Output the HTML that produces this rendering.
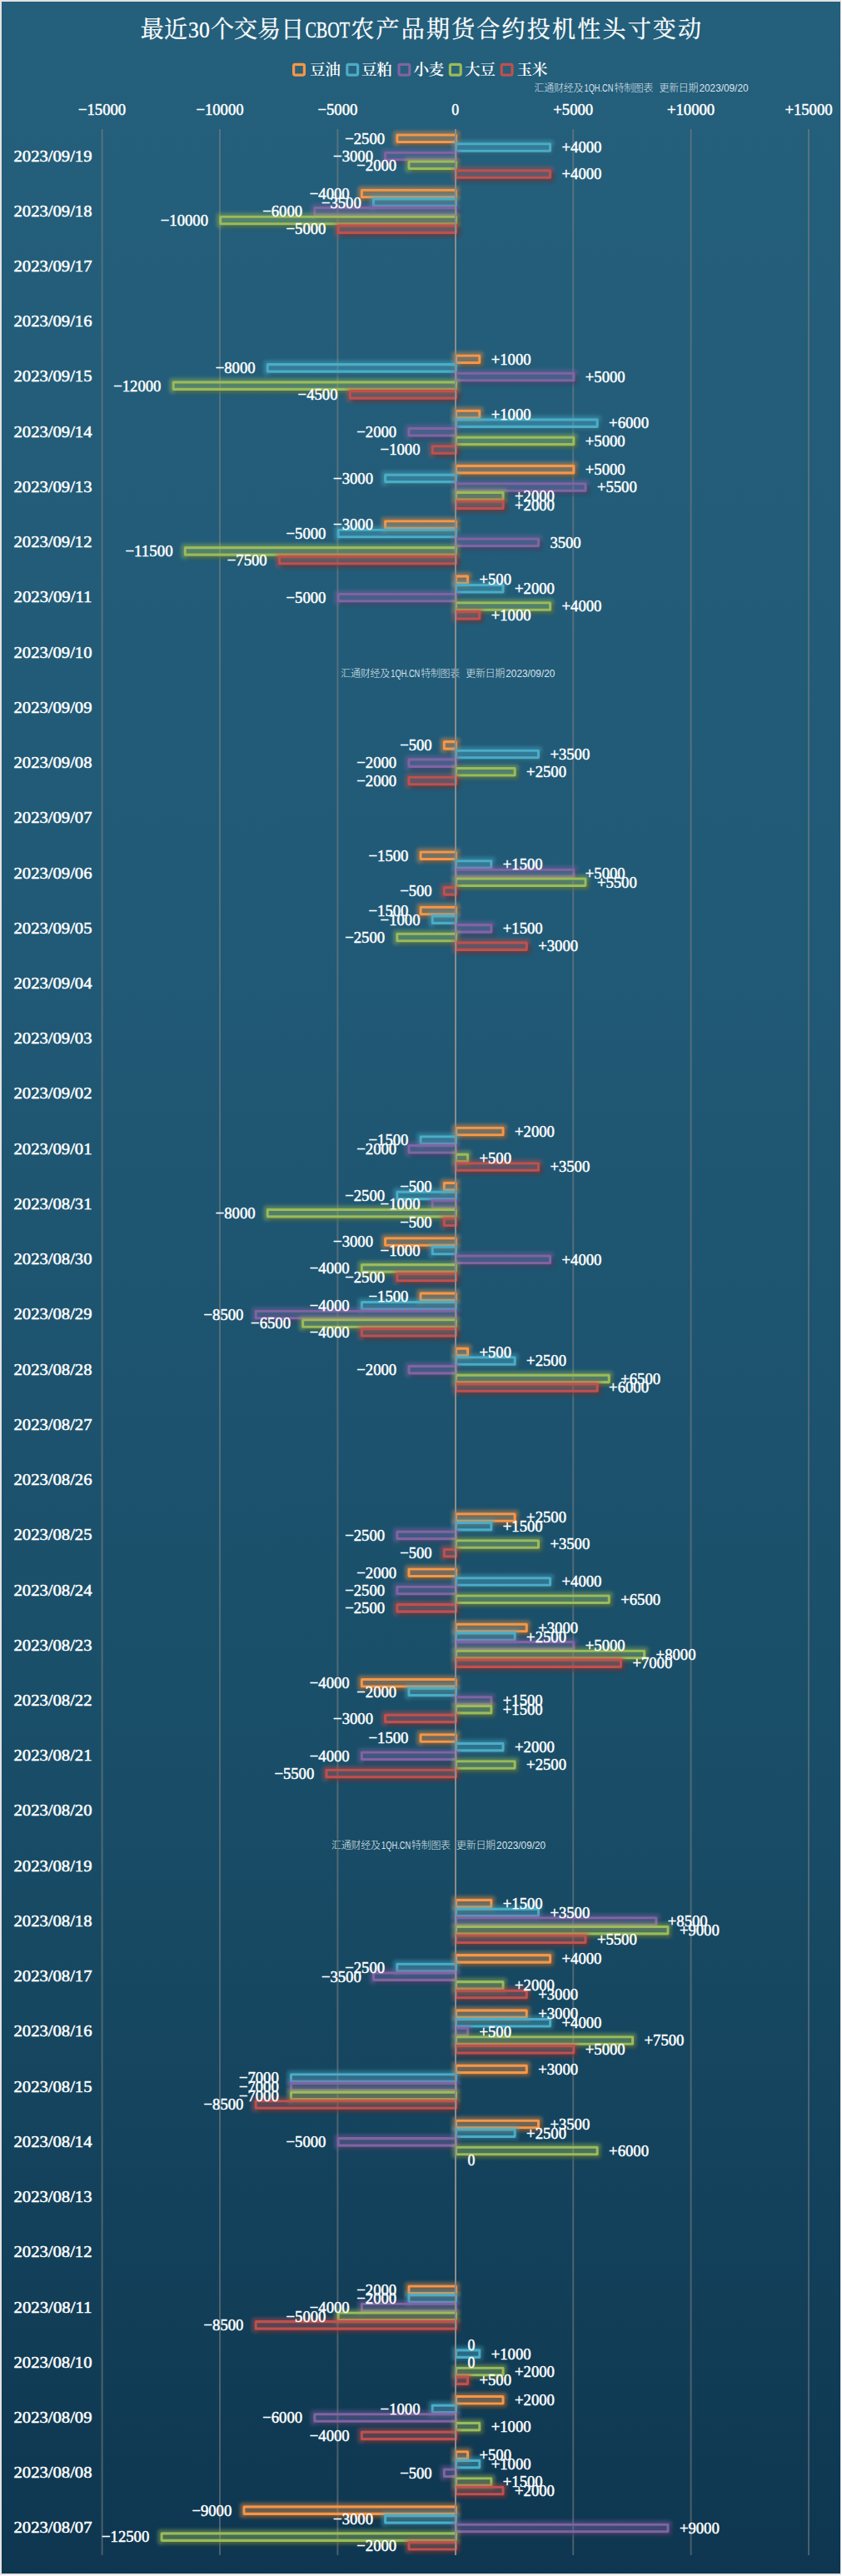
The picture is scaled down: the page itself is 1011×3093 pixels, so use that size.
<!DOCTYPE html>
<html lang="zh-CN"><head><meta charset="utf-8"><title>最近30个交易日CBOT农产品期货合约投机性头寸变动</title>
<style>
html,body{margin:0;padding:0;background:#fff;}
body{width:1011px;height:3093px;overflow:hidden;}
svg{display:block;}
.t{font-family:"Liberation Serif","Noto Serif CJK SC",serif;fill:#fff;stroke:#fff;stroke-width:0.3px;}
.b{font-family:"Liberation Serif","Noto Serif CJK SC",serif;font-weight:normal;font-size:19.00px;fill:#fff;stroke:#fff;stroke-width:0.5px;}
.l{font-family:"Liberation Serif","Noto Serif CJK SC",serif;font-weight:600;font-size:18.67px;fill:#fff;}
.w{font-family:"Liberation Sans","Noto Sans CJK SC",sans-serif;font-size:12px;font-weight:300;fill:#dbe5ec;}
</style></head><body>
<svg width="1011" height="3093" viewBox="0 0 1011 3093">
<defs>
<linearGradient id="bg" x1="0" y1="0" x2="0" y2="1"><stop offset="0" stop-color="#245f7b"/><stop offset="0.35" stop-color="#215a77"/><stop offset="0.7" stop-color="#194d67"/><stop offset="1" stop-color="#0e3650"/></linearGradient>
<filter id="g0" x="-5%" y="-1%" width="110%" height="102%" color-interpolation-filters="sRGB"><feGaussianBlur in="SourceAlpha" stdDeviation="2" result="sb"/><feOffset in="sb" dx="2.5" dy="2.5" result="so"/><feComponentTransfer in="so" result="sh0"><feFuncA type="linear" slope="0.4"/></feComponentTransfer><feMorphology in="SourceGraphic" operator="dilate" radius="3" result="dl"/><feGaussianBlur in="dl" stdDeviation="2" result="gb"/><feComponentTransfer in="gb" result="gl0"><feFuncA type="linear" slope="0.46"/></feComponentTransfer><feMerge result="m"><feMergeNode in="sh0"/><feMergeNode in="gl0"/></feMerge><feComposite in="m" in2="SourceAlpha" operator="out"/></filter>
<filter id="g1" x="-5%" y="-1%" width="110%" height="102%" color-interpolation-filters="sRGB"><feGaussianBlur in="SourceAlpha" stdDeviation="2" result="sb"/><feOffset in="sb" dx="2.5" dy="2.5" result="so"/><feComponentTransfer in="so" result="sh0"><feFuncA type="linear" slope="0.4"/></feComponentTransfer><feMorphology in="SourceGraphic" operator="dilate" radius="3" result="dl"/><feGaussianBlur in="dl" stdDeviation="2" result="gb"/><feComponentTransfer in="gb" result="gl0"><feFuncA type="linear" slope="0.46"/></feComponentTransfer><feMerge result="m"><feMergeNode in="sh0"/><feMergeNode in="gl0"/></feMerge><feComposite in="m" in2="SourceAlpha" operator="out"/></filter>
<filter id="g2" x="-5%" y="-1%" width="110%" height="102%" color-interpolation-filters="sRGB"><feGaussianBlur in="SourceAlpha" stdDeviation="2" result="sb"/><feOffset in="sb" dx="2.5" dy="2.5" result="so"/><feComponentTransfer in="so" result="sh0"><feFuncA type="linear" slope="0.4"/></feComponentTransfer><feMorphology in="SourceGraphic" operator="dilate" radius="3" result="dl"/><feGaussianBlur in="dl" stdDeviation="2" result="gb"/><feComponentTransfer in="gb" result="gl0"><feFuncA type="linear" slope="0.46"/></feComponentTransfer><feMerge result="m"><feMergeNode in="sh0"/><feMergeNode in="gl0"/></feMerge><feComposite in="m" in2="SourceAlpha" operator="out"/></filter>
<filter id="g3" x="-5%" y="-1%" width="110%" height="102%" color-interpolation-filters="sRGB"><feGaussianBlur in="SourceAlpha" stdDeviation="2" result="sb"/><feOffset in="sb" dx="2.5" dy="2.5" result="so"/><feComponentTransfer in="so" result="sh0"><feFuncA type="linear" slope="0.4"/></feComponentTransfer><feMorphology in="SourceGraphic" operator="dilate" radius="3" result="dl"/><feGaussianBlur in="dl" stdDeviation="2" result="gb"/><feComponentTransfer in="gb" result="gl0"><feFuncA type="linear" slope="0.46"/></feComponentTransfer><feMerge result="m"><feMergeNode in="sh0"/><feMergeNode in="gl0"/></feMerge><feComposite in="m" in2="SourceAlpha" operator="out"/></filter>
<filter id="g4" x="-5%" y="-1%" width="110%" height="102%" color-interpolation-filters="sRGB"><feGaussianBlur in="SourceAlpha" stdDeviation="2" result="sb"/><feOffset in="sb" dx="2.5" dy="2.5" result="so"/><feComponentTransfer in="so" result="sh0"><feFuncA type="linear" slope="0.4"/></feComponentTransfer><feMorphology in="SourceGraphic" operator="dilate" radius="3" result="dl"/><feGaussianBlur in="dl" stdDeviation="2" result="gb"/><feComponentTransfer in="gb" result="gl0"><feFuncA type="linear" slope="0.46"/></feComponentTransfer><feMerge result="m"><feMergeNode in="sh0"/><feMergeNode in="gl0"/></feMerge><feComposite in="m" in2="SourceAlpha" operator="out"/></filter>
</defs>
<rect x="0" y="0" width="1011" height="3093" fill="#ffffff"/>
<rect x="0" y="0" width="1010" height="3092" fill="#e3e3e3"/>
<rect x="2" y="2" width="1007" height="3088" fill="url(#bg)"/>
<text class="t" x="168.8" y="44.6" font-size="28" textLength="56.1" lengthAdjust="spacing">最近</text>
<text class="t" x="226.1" y="44.6" font-size="28" textLength="25.7" lengthAdjust="spacingAndGlyphs">30</text>
<text class="t" x="253.0" y="44.6" font-size="28" textLength="112.2" lengthAdjust="spacing">个交易日</text>
<text class="t" x="366.4" y="44.6" font-size="28" textLength="53.7" lengthAdjust="spacingAndGlyphs">CBOT</text>
<text class="t" x="421.3" y="44.6" font-size="28" textLength="420.8" lengthAdjust="spacing">农产品期货合约投机性头寸变动</text>
<rect x="352.6" y="77.3" width="12.8" height="12.8" rx="1.8" fill="#f79646" fill-opacity="0.05" stroke="#f79646" stroke-width="3.2"/>
<text class="l" x="372.0" y="90.3" textLength="36.8" lengthAdjust="spacing">豆油</text>
<rect x="416.8" y="77.3" width="12.8" height="12.8" rx="1.8" fill="#4bacc6" fill-opacity="0.05" stroke="#4bacc6" stroke-width="3.2"/>
<text class="l" x="434.0" y="90.3" textLength="36.8" lengthAdjust="spacing">豆粕</text>
<rect x="479.0" y="77.3" width="12.8" height="12.8" rx="1.8" fill="#8064a2" fill-opacity="0.05" stroke="#8064a2" stroke-width="3.2"/>
<text class="l" x="496.4" y="90.3" textLength="36.8" lengthAdjust="spacing">小麦</text>
<rect x="540.4" y="77.3" width="12.8" height="12.8" rx="1.8" fill="#9bbb59" fill-opacity="0.05" stroke="#9bbb59" stroke-width="3.2"/>
<text class="l" x="558.0" y="90.3" textLength="36.8" lengthAdjust="spacing">大豆</text>
<rect x="602.2" y="77.3" width="12.8" height="12.8" rx="1.8" fill="#c0504d" fill-opacity="0.05" stroke="#c0504d" stroke-width="3.2"/>
<text class="l" x="620.5" y="90.3" textLength="36.8" lengthAdjust="spacing">玉米</text>
<text class="w" x="641.5" y="109.8" textLength="59.0" lengthAdjust="spacing">汇通财经及</text>
<text class="w" x="701.5" y="109.8" textLength="35.0" lengthAdjust="spacingAndGlyphs">1QH.CN</text>
<text class="w" x="737.5" y="109.8" textLength="47.0" lengthAdjust="spacing">特制图表</text>
<text class="w" x="791.5" y="109.8" textLength="47.0" lengthAdjust="spacing">更新日期</text>
<text class="w" x="839.5" y="109.8" textLength="59.0" lengthAdjust="spacingAndGlyphs">2023/09/20</text>
<text class="w" x="409.3" y="812.8" textLength="59.0" lengthAdjust="spacing">汇通财经及</text>
<text class="w" x="469.3" y="812.8" textLength="35.0" lengthAdjust="spacingAndGlyphs">1QH.CN</text>
<text class="w" x="505.3" y="812.8" textLength="47.0" lengthAdjust="spacing">特制图表</text>
<text class="w" x="559.3" y="812.8" textLength="47.0" lengthAdjust="spacing">更新日期</text>
<text class="w" x="607.3" y="812.8" textLength="59.0" lengthAdjust="spacingAndGlyphs">2023/09/20</text>
<text class="w" x="398.1" y="2219.8" textLength="59.0" lengthAdjust="spacing">汇通财经及</text>
<text class="w" x="458.1" y="2219.8" textLength="35.0" lengthAdjust="spacingAndGlyphs">1QH.CN</text>
<text class="w" x="494.1" y="2219.8" textLength="47.0" lengthAdjust="spacing">特制图表</text>
<text class="w" x="548.1" y="2219.8" textLength="47.0" lengthAdjust="spacing">更新日期</text>
<text class="w" x="596.1" y="2219.8" textLength="59.0" lengthAdjust="spacingAndGlyphs">2023/09/20</text>
<text class="b" x="122.6" y="138" text-anchor="middle" textLength="57.2" lengthAdjust="spacingAndGlyphs">−15000</text>
<text class="b" x="264.0" y="138" text-anchor="middle" textLength="57.2" lengthAdjust="spacingAndGlyphs">−10000</text>
<text class="b" x="405.4" y="138" text-anchor="middle" textLength="47.9" lengthAdjust="spacingAndGlyphs">−5000</text>
<text class="b" x="546.8" y="138" text-anchor="middle" textLength="8.9" lengthAdjust="spacingAndGlyphs">0</text>
<text class="b" x="688.2" y="138" text-anchor="middle" textLength="47.9" lengthAdjust="spacingAndGlyphs">+5000</text>
<text class="b" x="829.6" y="138" text-anchor="middle" textLength="57.2" lengthAdjust="spacingAndGlyphs">+10000</text>
<text class="b" x="971.0" y="138" text-anchor="middle" textLength="57.2" lengthAdjust="spacingAndGlyphs">+15000</text>
<rect x="121.6" y="155" width="2" height="2913" fill="#848484" fill-opacity="0.52"/>
<rect x="263.0" y="155" width="2" height="2913" fill="#848484" fill-opacity="0.52"/>
<rect x="404.4" y="155" width="2" height="2913" fill="#848484" fill-opacity="0.52"/>
<rect x="687.2" y="155" width="2" height="2913" fill="#848484" fill-opacity="0.52"/>
<rect x="828.6" y="155" width="2" height="2913" fill="#848484" fill-opacity="0.52"/>
<rect x="970.0" y="155" width="2" height="2913" fill="#848484" fill-opacity="0.52"/>
<text class="b" x="16.5" y="193.5" textLength="94" lengthAdjust="spacingAndGlyphs">2023/09/19</text>
<text class="b" x="16.5" y="259.7" textLength="94" lengthAdjust="spacingAndGlyphs">2023/09/18</text>
<text class="b" x="16.5" y="326.0" textLength="94" lengthAdjust="spacingAndGlyphs">2023/09/17</text>
<text class="b" x="16.5" y="392.2" textLength="94" lengthAdjust="spacingAndGlyphs">2023/09/16</text>
<text class="b" x="16.5" y="458.4" textLength="94" lengthAdjust="spacingAndGlyphs">2023/09/15</text>
<text class="b" x="16.5" y="524.6" textLength="94" lengthAdjust="spacingAndGlyphs">2023/09/14</text>
<text class="b" x="16.5" y="590.9" textLength="94" lengthAdjust="spacingAndGlyphs">2023/09/13</text>
<text class="b" x="16.5" y="657.1" textLength="94" lengthAdjust="spacingAndGlyphs">2023/09/12</text>
<text class="b" x="16.5" y="723.3" textLength="94" lengthAdjust="spacingAndGlyphs">2023/09/11</text>
<text class="b" x="16.5" y="789.6" textLength="94" lengthAdjust="spacingAndGlyphs">2023/09/10</text>
<text class="b" x="16.5" y="855.8" textLength="94" lengthAdjust="spacingAndGlyphs">2023/09/09</text>
<text class="b" x="16.5" y="922.0" textLength="94" lengthAdjust="spacingAndGlyphs">2023/09/08</text>
<text class="b" x="16.5" y="988.3" textLength="94" lengthAdjust="spacingAndGlyphs">2023/09/07</text>
<text class="b" x="16.5" y="1054.5" textLength="94" lengthAdjust="spacingAndGlyphs">2023/09/06</text>
<text class="b" x="16.5" y="1120.7" textLength="94" lengthAdjust="spacingAndGlyphs">2023/09/05</text>
<text class="b" x="16.5" y="1187.0" textLength="94" lengthAdjust="spacingAndGlyphs">2023/09/04</text>
<text class="b" x="16.5" y="1253.2" textLength="94" lengthAdjust="spacingAndGlyphs">2023/09/03</text>
<text class="b" x="16.5" y="1319.4" textLength="94" lengthAdjust="spacingAndGlyphs">2023/09/02</text>
<text class="b" x="16.5" y="1385.6" textLength="94" lengthAdjust="spacingAndGlyphs">2023/09/01</text>
<text class="b" x="16.5" y="1451.9" textLength="94" lengthAdjust="spacingAndGlyphs">2023/08/31</text>
<text class="b" x="16.5" y="1518.1" textLength="94" lengthAdjust="spacingAndGlyphs">2023/08/30</text>
<text class="b" x="16.5" y="1584.3" textLength="94" lengthAdjust="spacingAndGlyphs">2023/08/29</text>
<text class="b" x="16.5" y="1650.6" textLength="94" lengthAdjust="spacingAndGlyphs">2023/08/28</text>
<text class="b" x="16.5" y="1716.8" textLength="94" lengthAdjust="spacingAndGlyphs">2023/08/27</text>
<text class="b" x="16.5" y="1783.0" textLength="94" lengthAdjust="spacingAndGlyphs">2023/08/26</text>
<text class="b" x="16.5" y="1849.2" textLength="94" lengthAdjust="spacingAndGlyphs">2023/08/25</text>
<text class="b" x="16.5" y="1915.5" textLength="94" lengthAdjust="spacingAndGlyphs">2023/08/24</text>
<text class="b" x="16.5" y="1981.7" textLength="94" lengthAdjust="spacingAndGlyphs">2023/08/23</text>
<text class="b" x="16.5" y="2047.9" textLength="94" lengthAdjust="spacingAndGlyphs">2023/08/22</text>
<text class="b" x="16.5" y="2114.2" textLength="94" lengthAdjust="spacingAndGlyphs">2023/08/21</text>
<text class="b" x="16.5" y="2180.4" textLength="94" lengthAdjust="spacingAndGlyphs">2023/08/20</text>
<text class="b" x="16.5" y="2246.6" textLength="94" lengthAdjust="spacingAndGlyphs">2023/08/19</text>
<text class="b" x="16.5" y="2312.9" textLength="94" lengthAdjust="spacingAndGlyphs">2023/08/18</text>
<text class="b" x="16.5" y="2379.1" textLength="94" lengthAdjust="spacingAndGlyphs">2023/08/17</text>
<text class="b" x="16.5" y="2445.3" textLength="94" lengthAdjust="spacingAndGlyphs">2023/08/16</text>
<text class="b" x="16.5" y="2511.6" textLength="94" lengthAdjust="spacingAndGlyphs">2023/08/15</text>
<text class="b" x="16.5" y="2577.8" textLength="94" lengthAdjust="spacingAndGlyphs">2023/08/14</text>
<text class="b" x="16.5" y="2644.0" textLength="94" lengthAdjust="spacingAndGlyphs">2023/08/13</text>
<text class="b" x="16.5" y="2710.2" textLength="94" lengthAdjust="spacingAndGlyphs">2023/08/12</text>
<text class="b" x="16.5" y="2776.5" textLength="94" lengthAdjust="spacingAndGlyphs">2023/08/11</text>
<text class="b" x="16.5" y="2842.7" textLength="94" lengthAdjust="spacingAndGlyphs">2023/08/10</text>
<text class="b" x="16.5" y="2908.9" textLength="94" lengthAdjust="spacingAndGlyphs">2023/08/09</text>
<text class="b" x="16.5" y="2975.2" textLength="94" lengthAdjust="spacingAndGlyphs">2023/08/08</text>
<text class="b" x="16.5" y="3041.4" textLength="94" lengthAdjust="spacingAndGlyphs">2023/08/07</text>
<defs>
<g id="s0">
<rect x="476.8" y="162.0" width="70.7" height="8.5" rx="0.4"/>
<rect x="434.3" y="228.3" width="113.1" height="8.5" rx="0.4"/>
<rect x="547.5" y="427.0" width="28.3" height="8.5" rx="0.4"/>
<rect x="547.5" y="493.2" width="28.3" height="8.5" rx="0.4"/>
<rect x="547.5" y="559.4" width="141.4" height="8.5" rx="0.4"/>
<rect x="462.6" y="625.7" width="84.8" height="8.5" rx="0.4"/>
<rect x="547.5" y="691.9" width="14.1" height="8.5" rx="0.4"/>
<rect x="533.3" y="890.6" width="14.1" height="8.5" rx="0.4"/>
<rect x="505.0" y="1023.0" width="42.4" height="8.5" rx="0.4"/>
<rect x="505.0" y="1089.3" width="42.4" height="8.5" rx="0.4"/>
<rect x="547.5" y="1354.2" width="56.6" height="8.5" rx="0.4"/>
<rect x="533.3" y="1420.4" width="14.1" height="8.5" rx="0.4"/>
<rect x="462.6" y="1486.7" width="84.8" height="8.5" rx="0.4"/>
<rect x="505.0" y="1552.9" width="42.4" height="8.5" rx="0.4"/>
<rect x="547.5" y="1619.1" width="14.1" height="8.5" rx="0.4"/>
<rect x="547.5" y="1817.8" width="70.7" height="8.5" rx="0.4"/>
<rect x="490.9" y="1884.0" width="56.6" height="8.5" rx="0.4"/>
<rect x="547.5" y="1950.3" width="84.8" height="8.5" rx="0.4"/>
<rect x="434.3" y="2016.5" width="113.1" height="8.5" rx="0.4"/>
<rect x="505.0" y="2082.7" width="42.4" height="8.5" rx="0.4"/>
<rect x="547.5" y="2281.4" width="42.4" height="8.5" rx="0.4"/>
<rect x="547.5" y="2347.6" width="113.1" height="8.5" rx="0.4"/>
<rect x="547.5" y="2413.9" width="84.8" height="8.5" rx="0.4"/>
<rect x="547.5" y="2480.1" width="84.8" height="8.5" rx="0.4"/>
<rect x="547.5" y="2546.3" width="99.0" height="8.5" rx="0.4"/>
<rect x="490.9" y="2745.0" width="56.6" height="8.5" rx="0.4"/>
<rect x="547.5" y="2877.5" width="56.6" height="8.5" rx="0.4"/>
<rect x="547.5" y="2943.7" width="14.1" height="8.5" rx="0.4"/>
<rect x="292.9" y="3009.9" width="254.5" height="8.5" rx="0.4"/>
</g>
<g id="s1">
<rect x="547.5" y="172.7" width="113.1" height="8.5" rx="0.4"/>
<rect x="448.5" y="238.9" width="99.0" height="8.5" rx="0.4"/>
<rect x="321.2" y="437.6" width="226.2" height="8.5" rx="0.4"/>
<rect x="547.5" y="503.9" width="169.7" height="8.5" rx="0.4"/>
<rect x="462.6" y="570.1" width="84.8" height="8.5" rx="0.4"/>
<rect x="406.1" y="636.3" width="141.4" height="8.5" rx="0.4"/>
<rect x="547.5" y="702.5" width="56.6" height="8.5" rx="0.4"/>
<rect x="547.5" y="901.2" width="99.0" height="8.5" rx="0.4"/>
<rect x="547.5" y="1033.7" width="42.4" height="8.5" rx="0.4"/>
<rect x="519.2" y="1099.9" width="28.3" height="8.5" rx="0.4"/>
<rect x="505.0" y="1364.8" width="42.4" height="8.5" rx="0.4"/>
<rect x="476.8" y="1431.1" width="70.7" height="8.5" rx="0.4"/>
<rect x="519.2" y="1497.3" width="28.3" height="8.5" rx="0.4"/>
<rect x="434.3" y="1563.5" width="113.1" height="8.5" rx="0.4"/>
<rect x="547.5" y="1629.8" width="70.7" height="8.5" rx="0.4"/>
<rect x="547.5" y="1828.4" width="42.4" height="8.5" rx="0.4"/>
<rect x="547.5" y="1894.7" width="113.1" height="8.5" rx="0.4"/>
<rect x="547.5" y="1960.9" width="70.7" height="8.5" rx="0.4"/>
<rect x="490.9" y="2027.1" width="56.6" height="8.5" rx="0.4"/>
<rect x="547.5" y="2093.4" width="56.6" height="8.5" rx="0.4"/>
<rect x="547.5" y="2292.1" width="99.0" height="8.5" rx="0.4"/>
<rect x="476.8" y="2358.3" width="70.7" height="8.5" rx="0.4"/>
<rect x="547.5" y="2424.5" width="113.1" height="8.5" rx="0.4"/>
<rect x="349.5" y="2490.8" width="198.0" height="8.5" rx="0.4"/>
<rect x="547.5" y="2557.0" width="70.7" height="8.5" rx="0.4"/>
<rect x="490.9" y="2755.7" width="56.6" height="8.5" rx="0.4"/>
<rect x="547.5" y="2821.9" width="28.3" height="8.5" rx="0.4"/>
<rect x="519.2" y="2888.1" width="28.3" height="8.5" rx="0.4"/>
<rect x="547.5" y="2954.4" width="28.3" height="8.5" rx="0.4"/>
<rect x="462.6" y="3020.6" width="84.8" height="8.5" rx="0.4"/>
</g>
<g id="s2">
<rect x="462.6" y="183.3" width="84.8" height="8.5" rx="0.4"/>
<rect x="377.8" y="249.6" width="169.7" height="8.5" rx="0.4"/>
<rect x="547.5" y="448.3" width="141.4" height="8.5" rx="0.4"/>
<rect x="490.9" y="514.5" width="56.6" height="8.5" rx="0.4"/>
<rect x="547.5" y="580.7" width="155.5" height="8.5" rx="0.4"/>
<rect x="547.5" y="647.0" width="99.0" height="8.5" rx="0.4"/>
<rect x="406.1" y="713.2" width="141.4" height="8.5" rx="0.4"/>
<rect x="490.9" y="911.9" width="56.6" height="8.5" rx="0.4"/>
<rect x="547.5" y="1044.3" width="141.4" height="8.5" rx="0.4"/>
<rect x="547.5" y="1110.6" width="42.4" height="8.5" rx="0.4"/>
<rect x="490.9" y="1375.5" width="56.6" height="8.5" rx="0.4"/>
<rect x="519.2" y="1441.7" width="28.3" height="8.5" rx="0.4"/>
<rect x="547.5" y="1508.0" width="113.1" height="8.5" rx="0.4"/>
<rect x="307.1" y="1574.2" width="240.4" height="8.5" rx="0.4"/>
<rect x="490.9" y="1640.4" width="56.6" height="8.5" rx="0.4"/>
<rect x="476.8" y="1839.1" width="70.7" height="8.5" rx="0.4"/>
<rect x="476.8" y="1905.3" width="70.7" height="8.5" rx="0.4"/>
<rect x="547.5" y="1971.6" width="141.4" height="8.5" rx="0.4"/>
<rect x="547.5" y="2037.8" width="42.4" height="8.5" rx="0.4"/>
<rect x="434.3" y="2104.0" width="113.1" height="8.5" rx="0.4"/>
<rect x="547.5" y="2302.7" width="240.4" height="8.5" rx="0.4"/>
<rect x="448.5" y="2368.9" width="99.0" height="8.5" rx="0.4"/>
<rect x="547.5" y="2435.2" width="14.1" height="8.5" rx="0.4"/>
<rect x="349.5" y="2501.4" width="198.0" height="8.5" rx="0.4"/>
<rect x="406.1" y="2567.6" width="141.4" height="8.5" rx="0.4"/>
<rect x="434.3" y="2766.3" width="113.1" height="8.5" rx="0.4"/>
<rect x="377.8" y="2898.8" width="169.7" height="8.5" rx="0.4"/>
<rect x="533.3" y="2965.0" width="14.1" height="8.5" rx="0.4"/>
<rect x="547.5" y="3031.2" width="254.5" height="8.5" rx="0.4"/>
</g>
<g id="s3">
<rect x="490.9" y="194.0" width="56.6" height="8.5" rx="0.4"/>
<rect x="264.7" y="260.2" width="282.8" height="8.5" rx="0.4"/>
<rect x="208.1" y="458.9" width="339.4" height="8.5" rx="0.4"/>
<rect x="547.5" y="525.1" width="141.4" height="8.5" rx="0.4"/>
<rect x="547.5" y="591.4" width="56.6" height="8.5" rx="0.4"/>
<rect x="222.2" y="657.6" width="325.2" height="8.5" rx="0.4"/>
<rect x="547.5" y="723.8" width="113.1" height="8.5" rx="0.4"/>
<rect x="547.5" y="922.5" width="70.7" height="8.5" rx="0.4"/>
<rect x="547.5" y="1055.0" width="155.5" height="8.5" rx="0.4"/>
<rect x="476.8" y="1121.2" width="70.7" height="8.5" rx="0.4"/>
<rect x="547.5" y="1386.1" width="14.1" height="8.5" rx="0.4"/>
<rect x="321.2" y="1452.4" width="226.2" height="8.5" rx="0.4"/>
<rect x="434.3" y="1518.6" width="113.1" height="8.5" rx="0.4"/>
<rect x="363.6" y="1584.8" width="183.8" height="8.5" rx="0.4"/>
<rect x="547.5" y="1651.1" width="183.8" height="8.5" rx="0.4"/>
<rect x="547.5" y="1849.8" width="99.0" height="8.5" rx="0.4"/>
<rect x="547.5" y="1916.0" width="183.8" height="8.5" rx="0.4"/>
<rect x="547.5" y="1982.2" width="226.2" height="8.5" rx="0.4"/>
<rect x="547.5" y="2048.4" width="42.4" height="8.5" rx="0.4"/>
<rect x="547.5" y="2114.7" width="70.7" height="8.5" rx="0.4"/>
<rect x="547.5" y="2313.4" width="254.5" height="8.5" rx="0.4"/>
<rect x="547.5" y="2379.6" width="56.6" height="8.5" rx="0.4"/>
<rect x="547.5" y="2445.8" width="212.1" height="8.5" rx="0.4"/>
<rect x="349.5" y="2512.1" width="198.0" height="8.5" rx="0.4"/>
<rect x="547.5" y="2578.3" width="169.7" height="8.5" rx="0.4"/>
<rect x="406.1" y="2777.0" width="141.4" height="8.5" rx="0.4"/>
<rect x="547.5" y="2843.2" width="56.6" height="8.5" rx="0.4"/>
<rect x="547.5" y="2909.4" width="28.3" height="8.5" rx="0.4"/>
<rect x="547.5" y="2975.7" width="42.4" height="8.5" rx="0.4"/>
<rect x="194.0" y="3041.9" width="353.5" height="8.5" rx="0.4"/>
</g>
<g id="s4">
<rect x="547.5" y="204.7" width="113.1" height="8.5" rx="0.4"/>
<rect x="406.1" y="270.9" width="141.4" height="8.5" rx="0.4"/>
<rect x="420.2" y="469.6" width="127.3" height="8.5" rx="0.4"/>
<rect x="519.2" y="535.8" width="28.3" height="8.5" rx="0.4"/>
<rect x="547.5" y="602.0" width="56.6" height="8.5" rx="0.4"/>
<rect x="335.4" y="668.3" width="212.1" height="8.5" rx="0.4"/>
<rect x="547.5" y="734.5" width="28.3" height="8.5" rx="0.4"/>
<rect x="490.9" y="933.2" width="56.6" height="8.5" rx="0.4"/>
<rect x="533.3" y="1065.6" width="14.1" height="8.5" rx="0.4"/>
<rect x="547.5" y="1131.9" width="84.8" height="8.5" rx="0.4"/>
<rect x="547.5" y="1396.8" width="99.0" height="8.5" rx="0.4"/>
<rect x="533.3" y="1463.0" width="14.1" height="8.5" rx="0.4"/>
<rect x="476.8" y="1529.2" width="70.7" height="8.5" rx="0.4"/>
<rect x="434.3" y="1595.5" width="113.1" height="8.5" rx="0.4"/>
<rect x="547.5" y="1661.7" width="169.7" height="8.5" rx="0.4"/>
<rect x="533.3" y="1860.4" width="14.1" height="8.5" rx="0.4"/>
<rect x="476.8" y="1926.6" width="70.7" height="8.5" rx="0.4"/>
<rect x="547.5" y="1992.9" width="198.0" height="8.5" rx="0.4"/>
<rect x="462.6" y="2059.1" width="84.8" height="8.5" rx="0.4"/>
<rect x="391.9" y="2125.3" width="155.5" height="8.5" rx="0.4"/>
<rect x="547.5" y="2324.0" width="155.5" height="8.5" rx="0.4"/>
<rect x="547.5" y="2390.2" width="84.8" height="8.5" rx="0.4"/>
<rect x="547.5" y="2456.5" width="141.4" height="8.5" rx="0.4"/>
<rect x="307.1" y="2522.7" width="240.4" height="8.5" rx="0.4"/>
<rect x="307.1" y="2787.6" width="240.4" height="8.5" rx="0.4"/>
<rect x="547.5" y="2853.9" width="14.1" height="8.5" rx="0.4"/>
<rect x="434.3" y="2920.1" width="113.1" height="8.5" rx="0.4"/>
<rect x="547.5" y="2986.3" width="56.6" height="8.5" rx="0.4"/>
<rect x="490.9" y="3052.5" width="56.6" height="8.5" rx="0.4"/>
</g>
</defs>
<use href="#s0" filter="url(#g0)" fill="#f79646" stroke="#f79646" stroke-width="3.1" stroke-linejoin="round"/>
<use href="#s0" fill="#f79646" fill-opacity="0.4" stroke="#f79646" stroke-width="3.1" stroke-linejoin="round"/>
<use href="#s1" filter="url(#g1)" fill="#4bacc6" stroke="#4bacc6" stroke-width="3.1" stroke-linejoin="round"/>
<use href="#s1" fill="#4bacc6" fill-opacity="0.4" stroke="#4bacc6" stroke-width="3.1" stroke-linejoin="round"/>
<use href="#s2" filter="url(#g2)" fill="#8064a2" stroke="#8064a2" stroke-width="3.1" stroke-linejoin="round"/>
<use href="#s2" fill="#8064a2" fill-opacity="0.4" stroke="#8064a2" stroke-width="3.1" stroke-linejoin="round"/>
<use href="#s3" filter="url(#g3)" fill="#9bbb59" stroke="#9bbb59" stroke-width="3.1" stroke-linejoin="round"/>
<use href="#s3" fill="#9bbb59" fill-opacity="0.4" stroke="#9bbb59" stroke-width="3.1" stroke-linejoin="round"/>
<use href="#s4" filter="url(#g4)" fill="#c0504d" stroke="#c0504d" stroke-width="3.1" stroke-linejoin="round"/>
<use href="#s4" fill="#c0504d" fill-opacity="0.4" stroke="#c0504d" stroke-width="3.1" stroke-linejoin="round"/>
<rect x="546" y="155" width="2" height="2913" fill="#8c8c8c"/>
<g>
<text class="b" x="462.1" y="172.6" text-anchor="end" textLength="47.9" lengthAdjust="spacingAndGlyphs">−2500</text>
<text class="b" x="674.5" y="183.2" textLength="47.9" lengthAdjust="spacingAndGlyphs">+4000</text>
<text class="b" x="448.0" y="193.9" text-anchor="end" textLength="47.9" lengthAdjust="spacingAndGlyphs">−3000</text>
<text class="b" x="476.2" y="204.6" text-anchor="end" textLength="47.9" lengthAdjust="spacingAndGlyphs">−2000</text>
<text class="b" x="674.5" y="215.2" textLength="47.9" lengthAdjust="spacingAndGlyphs">+4000</text>
<text class="b" x="419.7" y="238.8" text-anchor="end" textLength="47.9" lengthAdjust="spacingAndGlyphs">−4000</text>
<text class="b" x="433.8" y="249.5" text-anchor="end" textLength="47.9" lengthAdjust="spacingAndGlyphs">−3500</text>
<text class="b" x="363.1" y="260.1" text-anchor="end" textLength="47.9" lengthAdjust="spacingAndGlyphs">−6000</text>
<text class="b" x="250.0" y="270.8" text-anchor="end" textLength="57.2" lengthAdjust="spacingAndGlyphs">−10000</text>
<text class="b" x="391.4" y="281.4" text-anchor="end" textLength="47.9" lengthAdjust="spacingAndGlyphs">−5000</text>
<text class="b" x="589.7" y="437.5" textLength="47.9" lengthAdjust="spacingAndGlyphs">+1000</text>
<text class="b" x="306.6" y="448.2" text-anchor="end" textLength="47.9" lengthAdjust="spacingAndGlyphs">−8000</text>
<text class="b" x="702.8" y="458.8" textLength="47.9" lengthAdjust="spacingAndGlyphs">+5000</text>
<text class="b" x="193.4" y="469.5" text-anchor="end" textLength="57.2" lengthAdjust="spacingAndGlyphs">−12000</text>
<text class="b" x="405.5" y="480.1" text-anchor="end" textLength="47.9" lengthAdjust="spacingAndGlyphs">−4500</text>
<text class="b" x="589.7" y="503.8" textLength="47.9" lengthAdjust="spacingAndGlyphs">+1000</text>
<text class="b" x="731.1" y="514.4" textLength="47.9" lengthAdjust="spacingAndGlyphs">+6000</text>
<text class="b" x="476.2" y="525.0" text-anchor="end" textLength="47.9" lengthAdjust="spacingAndGlyphs">−2000</text>
<text class="b" x="702.8" y="535.7" textLength="47.9" lengthAdjust="spacingAndGlyphs">+5000</text>
<text class="b" x="504.5" y="546.3" text-anchor="end" textLength="47.9" lengthAdjust="spacingAndGlyphs">−1000</text>
<text class="b" x="702.8" y="570.0" textLength="47.9" lengthAdjust="spacingAndGlyphs">+5000</text>
<text class="b" x="448.0" y="580.6" text-anchor="end" textLength="47.9" lengthAdjust="spacingAndGlyphs">−3000</text>
<text class="b" x="716.9" y="591.3" textLength="47.9" lengthAdjust="spacingAndGlyphs">+5500</text>
<text class="b" x="618.0" y="601.9" textLength="47.9" lengthAdjust="spacingAndGlyphs">+2000</text>
<text class="b" x="618.0" y="612.6" textLength="47.9" lengthAdjust="spacingAndGlyphs">+2000</text>
<text class="b" x="448.0" y="636.2" text-anchor="end" textLength="47.9" lengthAdjust="spacingAndGlyphs">−3000</text>
<text class="b" x="391.4" y="646.9" text-anchor="end" textLength="47.9" lengthAdjust="spacingAndGlyphs">−5000</text>
<text class="b" x="660.4" y="657.5" textLength="37.3" lengthAdjust="spacingAndGlyphs">3500</text>
<text class="b" x="207.6" y="668.2" text-anchor="end" textLength="57.2" lengthAdjust="spacingAndGlyphs">−11500</text>
<text class="b" x="320.7" y="678.8" text-anchor="end" textLength="47.9" lengthAdjust="spacingAndGlyphs">−7500</text>
<text class="b" x="575.5" y="702.4" textLength="38.5" lengthAdjust="spacingAndGlyphs">+500</text>
<text class="b" x="618.0" y="713.1" textLength="47.9" lengthAdjust="spacingAndGlyphs">+2000</text>
<text class="b" x="391.4" y="723.7" text-anchor="end" textLength="47.9" lengthAdjust="spacingAndGlyphs">−5000</text>
<text class="b" x="674.5" y="734.4" textLength="47.9" lengthAdjust="spacingAndGlyphs">+4000</text>
<text class="b" x="589.7" y="745.0" textLength="47.9" lengthAdjust="spacingAndGlyphs">+1000</text>
<text class="b" x="518.7" y="901.1" text-anchor="end" textLength="38.5" lengthAdjust="spacingAndGlyphs">−500</text>
<text class="b" x="660.4" y="911.8" textLength="47.9" lengthAdjust="spacingAndGlyphs">+3500</text>
<text class="b" x="476.2" y="922.4" text-anchor="end" textLength="47.9" lengthAdjust="spacingAndGlyphs">−2000</text>
<text class="b" x="632.1" y="933.1" textLength="47.9" lengthAdjust="spacingAndGlyphs">+2500</text>
<text class="b" x="476.2" y="943.7" text-anchor="end" textLength="47.9" lengthAdjust="spacingAndGlyphs">−2000</text>
<text class="b" x="490.4" y="1033.6" text-anchor="end" textLength="47.9" lengthAdjust="spacingAndGlyphs">−1500</text>
<text class="b" x="603.8" y="1044.2" textLength="47.9" lengthAdjust="spacingAndGlyphs">+1500</text>
<text class="b" x="702.8" y="1054.9" textLength="47.9" lengthAdjust="spacingAndGlyphs">+5000</text>
<text class="b" x="716.9" y="1065.5" textLength="47.9" lengthAdjust="spacingAndGlyphs">+5500</text>
<text class="b" x="518.7" y="1076.2" text-anchor="end" textLength="38.5" lengthAdjust="spacingAndGlyphs">−500</text>
<text class="b" x="490.4" y="1099.8" text-anchor="end" textLength="47.9" lengthAdjust="spacingAndGlyphs">−1500</text>
<text class="b" x="504.5" y="1110.5" text-anchor="end" textLength="47.9" lengthAdjust="spacingAndGlyphs">−1000</text>
<text class="b" x="603.8" y="1121.1" textLength="47.9" lengthAdjust="spacingAndGlyphs">+1500</text>
<text class="b" x="462.1" y="1131.8" text-anchor="end" textLength="47.9" lengthAdjust="spacingAndGlyphs">−2500</text>
<text class="b" x="646.2" y="1142.4" textLength="47.9" lengthAdjust="spacingAndGlyphs">+3000</text>
<text class="b" x="618.0" y="1364.7" textLength="47.9" lengthAdjust="spacingAndGlyphs">+2000</text>
<text class="b" x="490.4" y="1375.4" text-anchor="end" textLength="47.9" lengthAdjust="spacingAndGlyphs">−1500</text>
<text class="b" x="476.2" y="1386.0" text-anchor="end" textLength="47.9" lengthAdjust="spacingAndGlyphs">−2000</text>
<text class="b" x="575.5" y="1396.7" textLength="38.5" lengthAdjust="spacingAndGlyphs">+500</text>
<text class="b" x="660.4" y="1407.3" textLength="47.9" lengthAdjust="spacingAndGlyphs">+3500</text>
<text class="b" x="518.7" y="1431.0" text-anchor="end" textLength="38.5" lengthAdjust="spacingAndGlyphs">−500</text>
<text class="b" x="462.1" y="1441.6" text-anchor="end" textLength="47.9" lengthAdjust="spacingAndGlyphs">−2500</text>
<text class="b" x="504.5" y="1452.3" text-anchor="end" textLength="47.9" lengthAdjust="spacingAndGlyphs">−1000</text>
<text class="b" x="306.6" y="1462.9" text-anchor="end" textLength="47.9" lengthAdjust="spacingAndGlyphs">−8000</text>
<text class="b" x="518.7" y="1473.6" text-anchor="end" textLength="38.5" lengthAdjust="spacingAndGlyphs">−500</text>
<text class="b" x="448.0" y="1497.2" text-anchor="end" textLength="47.9" lengthAdjust="spacingAndGlyphs">−3000</text>
<text class="b" x="504.5" y="1507.8" text-anchor="end" textLength="47.9" lengthAdjust="spacingAndGlyphs">−1000</text>
<text class="b" x="674.5" y="1518.5" textLength="47.9" lengthAdjust="spacingAndGlyphs">+4000</text>
<text class="b" x="419.7" y="1529.2" text-anchor="end" textLength="47.9" lengthAdjust="spacingAndGlyphs">−4000</text>
<text class="b" x="462.1" y="1539.8" text-anchor="end" textLength="47.9" lengthAdjust="spacingAndGlyphs">−2500</text>
<text class="b" x="490.4" y="1563.4" text-anchor="end" textLength="47.9" lengthAdjust="spacingAndGlyphs">−1500</text>
<text class="b" x="419.7" y="1574.1" text-anchor="end" textLength="47.9" lengthAdjust="spacingAndGlyphs">−4000</text>
<text class="b" x="292.4" y="1584.7" text-anchor="end" textLength="47.9" lengthAdjust="spacingAndGlyphs">−8500</text>
<text class="b" x="349.0" y="1595.4" text-anchor="end" textLength="47.9" lengthAdjust="spacingAndGlyphs">−6500</text>
<text class="b" x="419.7" y="1606.0" text-anchor="end" textLength="47.9" lengthAdjust="spacingAndGlyphs">−4000</text>
<text class="b" x="575.5" y="1629.7" textLength="38.5" lengthAdjust="spacingAndGlyphs">+500</text>
<text class="b" x="632.1" y="1640.3" textLength="47.9" lengthAdjust="spacingAndGlyphs">+2500</text>
<text class="b" x="476.2" y="1651.0" text-anchor="end" textLength="47.9" lengthAdjust="spacingAndGlyphs">−2000</text>
<text class="b" x="745.2" y="1661.6" textLength="47.9" lengthAdjust="spacingAndGlyphs">+6500</text>
<text class="b" x="731.1" y="1672.3" textLength="47.9" lengthAdjust="spacingAndGlyphs">+6000</text>
<text class="b" x="632.1" y="1828.3" textLength="47.9" lengthAdjust="spacingAndGlyphs">+2500</text>
<text class="b" x="603.8" y="1839.0" textLength="47.9" lengthAdjust="spacingAndGlyphs">+1500</text>
<text class="b" x="462.1" y="1849.6" text-anchor="end" textLength="47.9" lengthAdjust="spacingAndGlyphs">−2500</text>
<text class="b" x="660.4" y="1860.3" textLength="47.9" lengthAdjust="spacingAndGlyphs">+3500</text>
<text class="b" x="518.7" y="1870.9" text-anchor="end" textLength="38.5" lengthAdjust="spacingAndGlyphs">−500</text>
<text class="b" x="476.2" y="1894.6" text-anchor="end" textLength="47.9" lengthAdjust="spacingAndGlyphs">−2000</text>
<text class="b" x="674.5" y="1905.2" textLength="47.9" lengthAdjust="spacingAndGlyphs">+4000</text>
<text class="b" x="462.1" y="1915.9" text-anchor="end" textLength="47.9" lengthAdjust="spacingAndGlyphs">−2500</text>
<text class="b" x="745.2" y="1926.5" textLength="47.9" lengthAdjust="spacingAndGlyphs">+6500</text>
<text class="b" x="462.1" y="1937.2" text-anchor="end" textLength="47.9" lengthAdjust="spacingAndGlyphs">−2500</text>
<text class="b" x="646.2" y="1960.8" textLength="47.9" lengthAdjust="spacingAndGlyphs">+3000</text>
<text class="b" x="632.1" y="1971.5" textLength="47.9" lengthAdjust="spacingAndGlyphs">+2500</text>
<text class="b" x="702.8" y="1982.1" textLength="47.9" lengthAdjust="spacingAndGlyphs">+5000</text>
<text class="b" x="787.6" y="1992.8" textLength="47.9" lengthAdjust="spacingAndGlyphs">+8000</text>
<text class="b" x="759.4" y="2003.4" textLength="47.9" lengthAdjust="spacingAndGlyphs">+7000</text>
<text class="b" x="419.7" y="2027.0" text-anchor="end" textLength="47.9" lengthAdjust="spacingAndGlyphs">−4000</text>
<text class="b" x="476.2" y="2037.7" text-anchor="end" textLength="47.9" lengthAdjust="spacingAndGlyphs">−2000</text>
<text class="b" x="603.8" y="2048.3" textLength="47.9" lengthAdjust="spacingAndGlyphs">+1500</text>
<text class="b" x="603.8" y="2059.0" textLength="47.9" lengthAdjust="spacingAndGlyphs">+1500</text>
<text class="b" x="448.0" y="2069.6" text-anchor="end" textLength="47.9" lengthAdjust="spacingAndGlyphs">−3000</text>
<text class="b" x="490.4" y="2093.3" text-anchor="end" textLength="47.9" lengthAdjust="spacingAndGlyphs">−1500</text>
<text class="b" x="618.0" y="2103.9" textLength="47.9" lengthAdjust="spacingAndGlyphs">+2000</text>
<text class="b" x="419.7" y="2114.6" text-anchor="end" textLength="47.9" lengthAdjust="spacingAndGlyphs">−4000</text>
<text class="b" x="632.1" y="2125.2" textLength="47.9" lengthAdjust="spacingAndGlyphs">+2500</text>
<text class="b" x="377.3" y="2135.9" text-anchor="end" textLength="47.9" lengthAdjust="spacingAndGlyphs">−5500</text>
<text class="b" x="603.8" y="2292.0" textLength="47.9" lengthAdjust="spacingAndGlyphs">+1500</text>
<text class="b" x="660.4" y="2302.6" textLength="47.9" lengthAdjust="spacingAndGlyphs">+3500</text>
<text class="b" x="801.8" y="2313.3" textLength="47.9" lengthAdjust="spacingAndGlyphs">+8500</text>
<text class="b" x="815.9" y="2323.9" textLength="47.9" lengthAdjust="spacingAndGlyphs">+9000</text>
<text class="b" x="716.9" y="2334.6" textLength="47.9" lengthAdjust="spacingAndGlyphs">+5500</text>
<text class="b" x="674.5" y="2358.2" textLength="47.9" lengthAdjust="spacingAndGlyphs">+4000</text>
<text class="b" x="462.1" y="2368.8" text-anchor="end" textLength="47.9" lengthAdjust="spacingAndGlyphs">−2500</text>
<text class="b" x="433.8" y="2379.5" text-anchor="end" textLength="47.9" lengthAdjust="spacingAndGlyphs">−3500</text>
<text class="b" x="618.0" y="2390.1" textLength="47.9" lengthAdjust="spacingAndGlyphs">+2000</text>
<text class="b" x="646.2" y="2400.8" textLength="47.9" lengthAdjust="spacingAndGlyphs">+3000</text>
<text class="b" x="646.2" y="2424.4" textLength="47.9" lengthAdjust="spacingAndGlyphs">+3000</text>
<text class="b" x="674.5" y="2435.1" textLength="47.9" lengthAdjust="spacingAndGlyphs">+4000</text>
<text class="b" x="575.5" y="2445.7" textLength="38.5" lengthAdjust="spacingAndGlyphs">+500</text>
<text class="b" x="773.5" y="2456.4" textLength="47.9" lengthAdjust="spacingAndGlyphs">+7500</text>
<text class="b" x="702.8" y="2467.0" textLength="47.9" lengthAdjust="spacingAndGlyphs">+5000</text>
<text class="b" x="646.2" y="2490.7" textLength="47.9" lengthAdjust="spacingAndGlyphs">+3000</text>
<text class="b" x="334.8" y="2501.3" text-anchor="end" textLength="47.9" lengthAdjust="spacingAndGlyphs">−7000</text>
<text class="b" x="334.8" y="2512.0" text-anchor="end" textLength="47.9" lengthAdjust="spacingAndGlyphs">−7000</text>
<text class="b" x="334.8" y="2522.6" text-anchor="end" textLength="47.9" lengthAdjust="spacingAndGlyphs">−7000</text>
<text class="b" x="292.4" y="2533.3" text-anchor="end" textLength="47.9" lengthAdjust="spacingAndGlyphs">−8500</text>
<text class="b" x="660.4" y="2556.9" textLength="47.9" lengthAdjust="spacingAndGlyphs">+3500</text>
<text class="b" x="632.1" y="2567.5" textLength="47.9" lengthAdjust="spacingAndGlyphs">+2500</text>
<text class="b" x="391.4" y="2578.2" text-anchor="end" textLength="47.9" lengthAdjust="spacingAndGlyphs">−5000</text>
<text class="b" x="731.1" y="2588.8" textLength="47.9" lengthAdjust="spacingAndGlyphs">+6000</text>
<text class="b" x="561.4" y="2599.5" textLength="8.9" lengthAdjust="spacingAndGlyphs">0</text>
<text class="b" x="476.2" y="2755.6" text-anchor="end" textLength="47.9" lengthAdjust="spacingAndGlyphs">−2000</text>
<text class="b" x="476.2" y="2766.2" text-anchor="end" textLength="47.9" lengthAdjust="spacingAndGlyphs">−2000</text>
<text class="b" x="419.7" y="2776.9" text-anchor="end" textLength="47.9" lengthAdjust="spacingAndGlyphs">−4000</text>
<text class="b" x="391.4" y="2787.5" text-anchor="end" textLength="47.9" lengthAdjust="spacingAndGlyphs">−5000</text>
<text class="b" x="292.4" y="2798.2" text-anchor="end" textLength="47.9" lengthAdjust="spacingAndGlyphs">−8500</text>
<text class="b" x="561.4" y="2821.8" textLength="8.9" lengthAdjust="spacingAndGlyphs">0</text>
<text class="b" x="589.7" y="2832.5" textLength="47.9" lengthAdjust="spacingAndGlyphs">+1000</text>
<text class="b" x="561.4" y="2843.1" textLength="8.9" lengthAdjust="spacingAndGlyphs">0</text>
<text class="b" x="618.0" y="2853.8" textLength="47.9" lengthAdjust="spacingAndGlyphs">+2000</text>
<text class="b" x="575.5" y="2864.4" textLength="38.5" lengthAdjust="spacingAndGlyphs">+500</text>
<text class="b" x="618.0" y="2888.0" textLength="47.9" lengthAdjust="spacingAndGlyphs">+2000</text>
<text class="b" x="504.5" y="2898.7" text-anchor="end" textLength="47.9" lengthAdjust="spacingAndGlyphs">−1000</text>
<text class="b" x="363.1" y="2909.3" text-anchor="end" textLength="47.9" lengthAdjust="spacingAndGlyphs">−6000</text>
<text class="b" x="589.7" y="2920.0" textLength="47.9" lengthAdjust="spacingAndGlyphs">+1000</text>
<text class="b" x="419.7" y="2930.6" text-anchor="end" textLength="47.9" lengthAdjust="spacingAndGlyphs">−4000</text>
<text class="b" x="575.5" y="2954.3" textLength="38.5" lengthAdjust="spacingAndGlyphs">+500</text>
<text class="b" x="589.7" y="2964.9" textLength="47.9" lengthAdjust="spacingAndGlyphs">+1000</text>
<text class="b" x="518.7" y="2975.6" text-anchor="end" textLength="38.5" lengthAdjust="spacingAndGlyphs">−500</text>
<text class="b" x="603.8" y="2986.2" textLength="47.9" lengthAdjust="spacingAndGlyphs">+1500</text>
<text class="b" x="618.0" y="2996.9" textLength="47.9" lengthAdjust="spacingAndGlyphs">+2000</text>
<text class="b" x="278.3" y="3020.5" text-anchor="end" textLength="47.9" lengthAdjust="spacingAndGlyphs">−9000</text>
<text class="b" x="448.0" y="3031.1" text-anchor="end" textLength="47.9" lengthAdjust="spacingAndGlyphs">−3000</text>
<text class="b" x="815.9" y="3041.8" textLength="47.9" lengthAdjust="spacingAndGlyphs">+9000</text>
<text class="b" x="179.3" y="3052.4" text-anchor="end" textLength="57.2" lengthAdjust="spacingAndGlyphs">−12500</text>
<text class="b" x="476.2" y="3063.1" text-anchor="end" textLength="47.9" lengthAdjust="spacingAndGlyphs">−2000</text>
</g>
</svg></body></html>
